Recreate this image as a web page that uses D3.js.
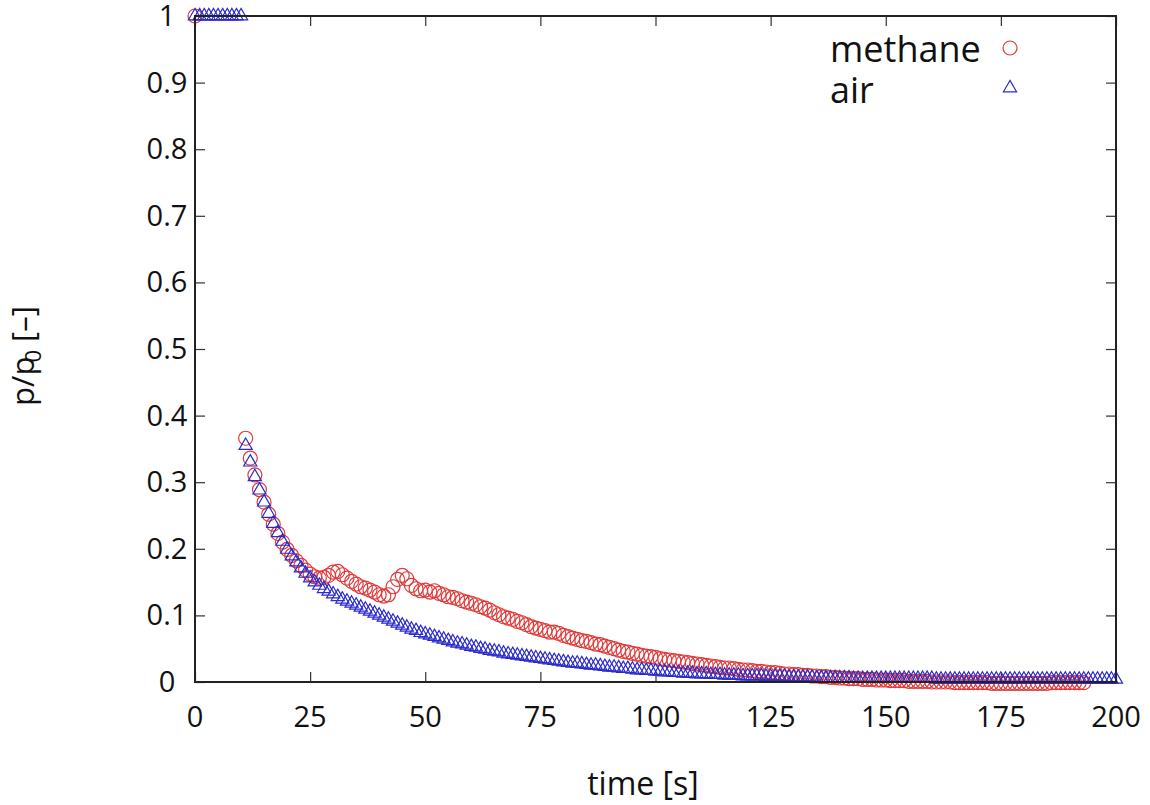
<!DOCTYPE html>
<html>
<head>
<meta charset="utf-8">
<script src="https://cdn.jsdelivr.net/npm/d3@7"></script>
<style>
  html, body { margin: 0; padding: 0; background: #fff; }
  svg { display: block; }
  text { font-family: "Open Sans", "Noto Sans", sans-serif; fill: #111; }
</style>
</head>
<body>
<svg id="chart" width="1150" height="805"></svg>
<script>
// ---------------- data ----------------
const seriesNames = ["methane", "air"];
const xTicks = [0, 25, 50, 75, 100, 125, 150, 175, 200];
const yTicks = [0, 0.1, 0.2, 0.3, 0.4, 0.5, 0.6, 0.7, 0.8, 0.9, 1];
const yTickLabels = ["0", "0.1", "0.2", "0.3", "0.4", "0.5", "0.6", "0.7", "0.8", "0.9", "1"];

// air: samples every 1 s from t = 0 s
const airStart = 0;
const airValues = [
  1, 1, 1, 1, 1, 1, 1, 1, 1, 1, 1,
  0.355, 0.330, 0.308, 0.288, 0.270, 0.253, 0.238, 0.224, 0.211, 0.199,
  0.189, 0.180, 0.171, 0.163, 0.156, 0.150, 0.145, 0.140, 0.136, 0.132,
  0.128, 0.124, 0.121, 0.118, 0.115, 0.112, 0.109, 0.106, 0.103, 0.100,
  0.097, 0.094, 0.091, 0.088, 0.085, 0.082, 0.079, 0.077, 0.074, 0.072,
  0.070, 0.068, 0.066, 0.064, 0.062, 0.060, 0.058, 0.057, 0.055, 0.053,
  0.052, 0.050, 0.049, 0.047, 0.046, 0.045, 0.043, 0.042, 0.041, 0.040,
  0.039, 0.038, 0.037, 0.036, 0.035, 0.034, 0.033, 0.032, 0.031, 0.030,
  0.029, 0.028, 0.028, 0.027, 0.026, 0.025, 0.025, 0.024, 0.023, 0.022,
  0.022, 0.021, 0.020, 0.020, 0.019, 0.018, 0.018, 0.017, 0.017, 0.016,
  0.016, 0.015, 0.015, 0.014, 0.014, 0.013, 0.013, 0.013, 0.012, 0.012,
  0.012, 0.011, 0.011, 0.011, 0.010, 0.010, 0.010, 0.010, 0.009, 0.009,
  0.009, 0.009, 0.009, 0.008, 0.008, 0.008, 0.008, 0.008, 0.007, 0.007,
  0.007, 0.007, 0.007, 0.007, 0.006, 0.006, 0.006, 0.006, 0.006, 0.006,
  0.006, 0.006, 0.005, 0.005, 0.005, 0.005, 0.005, 0.005, 0.005, 0.005,
  0.005, 0.005, 0.005, 0.005, 0.005, 0.005, 0.005, 0.005, 0.005, 0.005,
  0.004, 0.004, 0.004, 0.004, 0.004, 0.004, 0.004, 0.004, 0.004, 0.004,
  0.004, 0.004, 0.004, 0.004, 0.004, 0.004, 0.004, 0.004, 0.004, 0.004,
  0.004, 0.004, 0.004, 0.004, 0.004, 0.004, 0.004, 0.004, 0.004, 0.004,
  0.004, 0.004, 0.004, 0.004, 0.004, 0.004, 0.004, 0.004, 0.004, 0.004
];

// methane: one sample at t = 0 s, then every 1 s from t = 11 s
const methaneFirstTime = 0;
const methaneFirstValue = 1;
const methaneStart = 11;
const methaneValues = [
  0.366, 0.336, 0.311, 0.289, 0.270, 0.252, 0.237, 0.223, 0.210, 0.199,
  0.190, 0.182, 0.175, 0.168, 0.162, 0.158, 0.156, 0.157, 0.160, 0.165,
  0.166, 0.161, 0.156, 0.151, 0.147, 0.143, 0.141, 0.138, 0.135, 0.131,
  0.129, 0.131, 0.143, 0.154, 0.160, 0.155, 0.145, 0.140, 0.137, 0.138,
  0.135, 0.137, 0.133, 0.131, 0.128, 0.127, 0.125, 0.122, 0.120, 0.118,
  0.116, 0.113, 0.111, 0.108, 0.104, 0.101, 0.098, 0.096, 0.094, 0.091,
  0.089, 0.086, 0.083, 0.081, 0.079, 0.077, 0.075, 0.075, 0.073, 0.070,
  0.068, 0.066, 0.064, 0.062, 0.061, 0.059, 0.057, 0.056, 0.054, 0.052,
  0.050, 0.048, 0.046, 0.045, 0.043, 0.042, 0.040, 0.039, 0.038, 0.037,
  0.035, 0.034, 0.033, 0.032, 0.031, 0.030, 0.029, 0.028, 0.027, 0.026,
  0.025, 0.024, 0.023, 0.022, 0.021, 0.021, 0.020, 0.019, 0.018, 0.018,
  0.017, 0.016, 0.016, 0.015, 0.014, 0.014, 0.013, 0.012, 0.012, 0.011,
  0.011, 0.010, 0.010, 0.009, 0.009, 0.008, 0.008, 0.007, 0.007, 0.006,
  0.006, 0.005, 0.005, 0.005, 0.004, 0.004, 0.004, 0.003, 0.003, 0.003,
  0.002, 0.002, 0.002, 0.002, 0.001, 0.001, 0.001, 0.001, 0.001, 0.000,
  0.000, 0.000, 0.000, 0.000, -0.001, -0.001, -0.001, -0.001, -0.001, -0.001,
  -0.001, -0.001, -0.002, -0.002, -0.002, -0.002, -0.002, -0.002, -0.002, -0.002,
  -0.002, -0.002, -0.002, -0.002, -0.002, -0.001, -0.001, -0.001, -0.001, -0.001,
  -0.001, -0.001, -0.001
];

// ---------------- chart ----------------
const svg = d3.select("#chart");
const plot = { left: 195, right: 1116, top: 16, bottom: 682 };

const x = d3.scaleLinear().domain([0, 200]).range([plot.left, plot.right]);
const y = d3.scaleLinear().domain([0, 1]).range([plot.bottom, plot.top]);

const colors = { methane: "#e03a3a", air: "#2b2bcc" };

const airData = airValues.map((v, i) => ({ t: airStart + i, v }));
const methaneData = [{ t: methaneFirstTime, v: methaneFirstValue }]
  .concat(methaneValues.map((v, i) => ({ t: methaneStart + i, v })));

// ticks (inward, mirrored)
const tickLen = 10;
const axisG = svg.append("g");
const bottomAxis = d3.axisBottom(x).tickValues(xTicks).tickSize(-tickLen).tickFormat("");
const topAxis = d3.axisTop(x).tickValues(xTicks).tickSize(-tickLen).tickFormat("");
const leftAxis = d3.axisLeft(y).tickValues(yTicks).tickSize(-tickLen).tickFormat("");
const rightAxis = d3.axisRight(y).tickValues(yTicks).tickSize(-tickLen).tickFormat("");

[[bottomAxis, `translate(0,${plot.bottom})`], [topAxis, `translate(0,${plot.top})`],
 [leftAxis, `translate(${plot.left},0)`], [rightAxis, `translate(${plot.right},0)`]]
  .forEach(([ax, tr]) => {
    const g = axisG.append("g").attr("transform", tr).call(ax);
    g.select(".domain").remove();
    g.selectAll(".tick line").attr("stroke", "#333").attr("stroke-width", 1.2);
  });

// tick labels
svg.append("g").selectAll("text").data(xTicks).join("text")
  .attr("x", d => x(d)).attr("y", 727)
  .attr("text-anchor", "middle").attr("font-size", 29)
  .text(d => d);

svg.append("g").selectAll("text").data(yTicks).join("text")
  .attr("x", 167).attr("y", d => y(d) + 10)
  .attr("text-anchor", "middle").attr("font-size", 29)
  .text((d, i) => yTickLabels[i]);

// axis titles
svg.append("text")
  .attr("x", 643).attr("y", 795)
  .attr("text-anchor", "middle").attr("font-size", 32)
  .text("time [s]");

const yTitle = svg.append("text")
  .attr("transform", "translate(34,356) rotate(-90)")
  .attr("text-anchor", "middle").attr("font-size", 31);
yTitle.append("tspan").text("p/p");
yTitle.append("tspan").attr("font-size", 22).attr("dy", 7).attr("dx", -6).text("0");
yTitle.append("tspan").attr("dy", -7).text(" [–]");

// markers
const triPath = d3.symbol().type(d3.symbolTriangle).size(75);

svg.append("g").selectAll("circle").data(methaneData).join("circle")
  .attr("cx", d => x(d.t)).attr("cy", d => y(d.v)).attr("r", 7)
  .attr("fill", "none").attr("stroke", colors.methane).attr("stroke-width", 1.2);

svg.append("g").selectAll("path").data(airData).join("path")
  .attr("d", triPath)
  .attr("transform", d => `translate(${x(d.t)},${y(d.v)})`)
  .attr("fill", "none").attr("stroke", colors.air).attr("stroke-width", 1.2);

// frame
svg.append("rect")
  .attr("x", plot.left).attr("y", plot.top)
  .attr("width", plot.right - plot.left).attr("height", plot.bottom - plot.top)
  .attr("fill", "none").attr("stroke", "#222").attr("stroke-width", 2);

// legend
const legend = svg.append("g");
legend.append("text").attr("x", 830).attr("y", 62).attr("font-size", 36).text(seriesNames[0]);
legend.append("text").attr("x", 830).attr("y", 103).attr("font-size", 36).text(seriesNames[1]);
legend.append("circle").attr("cx", 1010).attr("cy", 48).attr("r", 7)
  .attr("fill", "none").attr("stroke", colors.methane).attr("stroke-width", 1.2);
legend.append("path").attr("d", triPath).attr("transform", "translate(1010,88)")
  .attr("fill", "none").attr("stroke", colors.air).attr("stroke-width", 1.2);
</script>
</body>
</html>
